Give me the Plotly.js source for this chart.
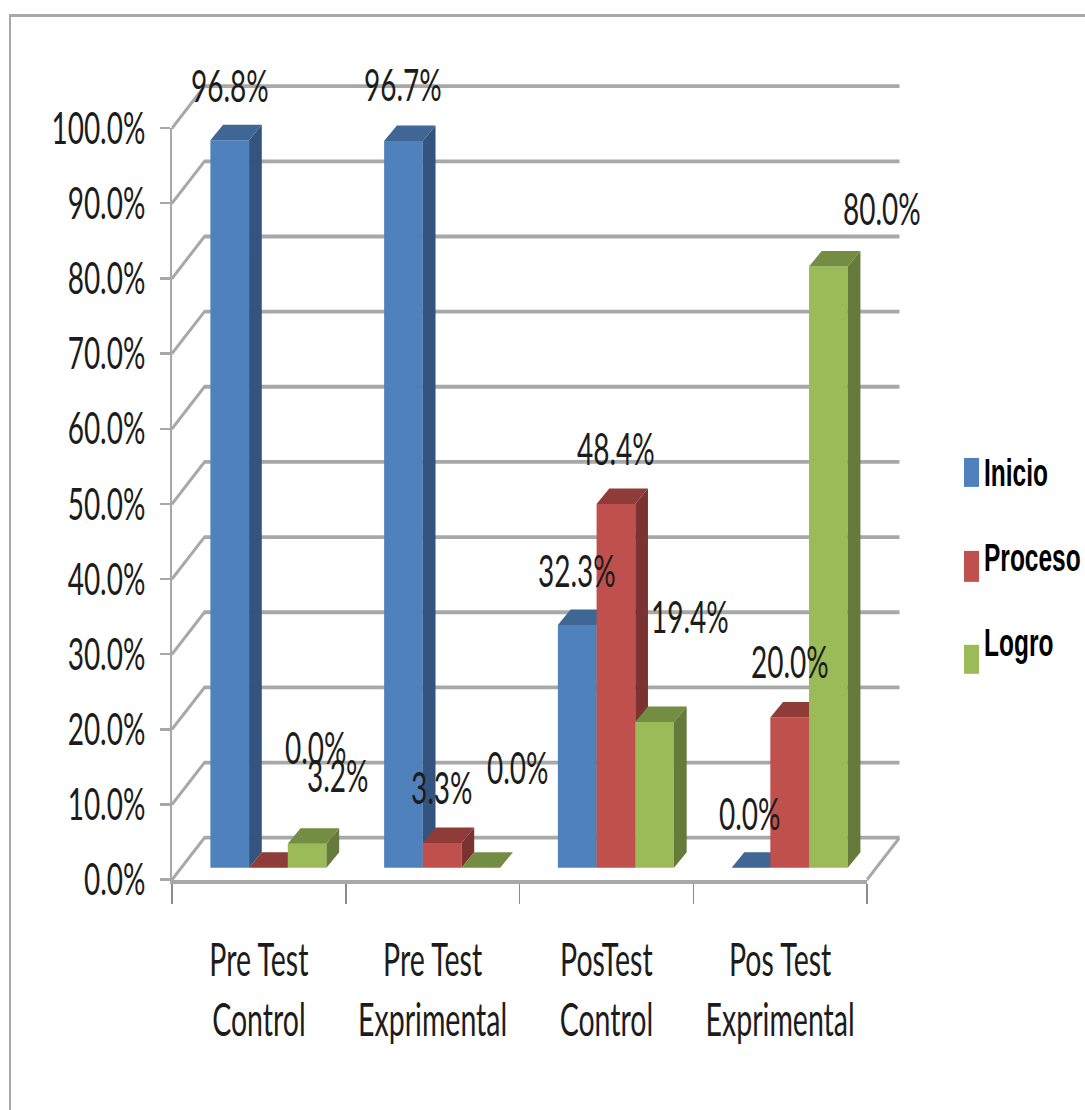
<!DOCTYPE html>
<html>
<head>
<meta charset="utf-8">
<script src="https://cdn.plot.ly/plotly-3.0.1.min.js"></script>
<style>
html,body{margin:0;padding:0;background:#fff;overflow:hidden;width:1085px;height:1110px}
#frame{position:absolute;left:9px;top:14px;width:1076px;height:1096px;border-top:3px solid #a9a9a9;border-left:2px solid #a9a9a9;box-sizing:border-box}
#chart{position:absolute;left:0;top:0;width:1085px;height:694px;transform-origin:0 0;transform:scaleY(1.5994)}
</style>
</head>
<body>
<div id="frame"></div>
<div id="chart"></div>
<script>
// ---- data ----
const categories = ['Pre Test<br>Control', 'Pre Test<br>Exprimental', 'PosTest<br>Control', 'Pos Test<br>Exprimental'];
const seriesNames = ['Inicio', 'Proceso', 'Logro'];
const inicio  = [96.8, 96.7, 32.3, 0.0];
const proceso = [0.0, 3.3, 48.4, 20.0];
const logro   = [3.2, 0.0, 19.4, 80.0];
const yTicks  = [0, 10, 20, 30, 40, 50, 60, 70, 80, 90, 100];
const yTickText = ['0.0%', '10.0%', '20.0%', '30.0%', '40.0%', '50.0%', '60.0%', '70.0%', '80.0%', '90.0%', '100.0%'];

// ---- styles ----
const frontColors = ['#4f81bd', '#c0504d', '#9bbb59'];
const sideColors  = ['#33547f', '#7b3331', '#667a3b'];
const topColors   = ['#3f6694', '#8f3b38', '#738d43'];
const gridColor = '#a8a8a8';
const textColor = '#1c1c1c';
const numFont = 'Lato, "Open Sans", sans-serif';

// ---- geometry (picture pixels) ----
const K = 1110 / 694;
const PX = {left: 172, right: 867, bottom: 880, top: 128};
const DRAW = {left: 164, right: 905, bottom: 888, top: 75};
const pxPerCat = (PX.right - PX.left) / 4;
const pxPerPct = (PX.bottom - PX.top) / 100;
const wallDx = 32.5 / pxPerCat, wallDy = 42 / pxPerPct;
const barW = 38.7 / pxPerCat;
const barStart = -48.5 / pxPerCat;
const planeBase = 12 / pxPerPct;
const depthDx = 12.7 / pxPerCat, depthDy = 15.5 / pxPerPct;
const xMin = -0.5, xMax = 3.5;
const drawX = [xMin - (PX.left - DRAW.left) / pxPerCat, xMax + (DRAW.right - PX.right) / pxPerCat];
const drawY = [-(DRAW.bottom - PX.bottom) / pxPerPct, 100 + (PX.top - DRAW.top) / pxPerPct];

// label offsets from bar top centre, picture pixels [dx, up]
const labelOffsets = [
  [[0,56],[0,57],[0,55],[-1,55]],
  [[48,121],[0,56],[0,56],[0,57]],
  [[31,69],[37,102],[35,106],[54,58]]
];

const values = [inicio, proceso, logro];
const traces = [];

// empty traces keep the visible axes in place
traces.push({type:'scatter', mode:'none', x:[0], y:[0], xaxis:'x', yaxis:'y', hoverinfo:'skip', showlegend:false});
traces.push({type:'scatter', mode:'none', x:[0], y:[0], xaxis:'x6', yaxis:'y', hoverinfo:'skip', showlegend:false});

// back wall, side wall, floor
const gx = [], gy = [];
yTicks.forEach(t => {
  gx.push(xMin, xMin + wallDx, xMax + wallDx, null);
  gy.push(t, t + wallDy, t + wallDy, null);
});
gx.push(xMax, xMax + wallDx, null);
gy.push(0, wallDy, null);
traces.push({type:'scatter', mode:'lines', x:gx, y:gy, xaxis:'x2', yaxis:'y2',
  line:{color:gridColor, width:2.4}, hoverinfo:'skip', showlegend:false});

values.forEach((vals, s) => {
  const n = s + 3;
  const xa = 'x' + n, ya = 'y' + n;
  const off = barStart + s * barW;
  traces.push({type:'bar', name:seriesNames[s], x:[0,1,2,3], y:vals, base:vals.map(() => planeBase),
    offset:off, width:barW, xaxis:xa, yaxis:ya,
    marker:{color:frontColors[s], line:{width:0}}, showlegend:false});
  const sx = [], sy = [], tx = [], ty = [];
  vals.forEach((v, i) => {
    const L = i + off, R = L + barW, t = planeBase + v;
    sx.push(R, R, R + depthDx, R + depthDx, R, null);
    sy.push(planeBase, t, t + depthDy, planeBase + depthDy, planeBase, null);
    tx.push(L, R, R + depthDx, L + depthDx, L, null);
    ty.push(t, t, t + depthDy, t + depthDy, t, null);
  });
  traces.push({type:'scatter', mode:'lines', x:sx, y:sy, xaxis:xa, yaxis:ya, fill:'toself', fillcolor:sideColors[s],
    line:{width:0, color:sideColors[s]}, hoverinfo:'skip', showlegend:false});
  traces.push({type:'scatter', mode:'lines', x:tx, y:ty, xaxis:xa, yaxis:ya, fill:'toself', fillcolor:topColors[s],
    line:{width:0, color:topColors[s]}, hoverinfo:'skip', showlegend:false});
});

// data labels
const annotations = [];
values.forEach((vals, s) => {
  vals.forEach((v, i) => {
    const o = labelOffsets[s][i];
    annotations.push({xref:'x', yref:'y', x:i + barStart + (s + 0.5) * barW, y:planeBase + v,
      xshift:o[0], yshift:o[1] / K, text:v.toFixed(1) + '%', showarrow:false, xanchor:'center', yanchor:'middle',
      font:{family:numFont, size:28, color:textColor}});
  });
});

// legend
const W = 1085, H = 694;
const paperX = px => (px - DRAW.left) / (DRAW.right - DRAW.left);
const paperY = py => (DRAW.bottom - py) / (DRAW.bottom - DRAW.top);
const legendRows = [[458, 487, 473], [551, 582, 558], [645, 674, 643]];
const shapes = [];
seriesNames.forEach((nm, s) => {
  const r = legendRows[s];
  shapes.push({type:'rect', xref:'paper', yref:'paper', x0:paperX(964), x1:paperX(979), y0:paperY(r[1]), y1:paperY(r[0]),
    fillcolor:frontColors[s], line:{width:0}});
  annotations.push({xref:'paper', yref:'paper', x:paperX(982), y:paperY(r[2]), text:nm, showarrow:false,
    xanchor:'left', yanchor:'middle', font:{family:'"Liberation Sans", Arial, sans-serif', size:24.5, weight:700, color:'#000'}});
});

const mainDomX = [paperX(PX.left), paperX(PX.right)];
const mainDomY = [paperY(PX.bottom), paperY(PX.top)];
const hiddenX = {domain:[0, 1], range:drawX, visible:false, fixedrange:true};
const hiddenY = {domain:[0, 1], range:drawY, visible:false, fixedrange:true};

const layout = {
  width:W, height:H,
  margin:{l:DRAW.left, r:W - DRAW.right, t:DRAW.top / K, b:H - DRAW.bottom / K, pad:0},
  paper_bgcolor:'rgba(0,0,0,0)', plot_bgcolor:'rgba(0,0,0,0)',
  showlegend:false, barmode:'overlay', annotations, shapes,
  xaxis:{domain:mainDomX, range:[xMin, xMax], tickmode:'array', tickvals:[-0.5,0.5,1.5,2.5,3.5], ticktext:['','','','',''],
    ticks:'outside', ticklen:12.5, tickwidth:1.5, tickcolor:'#8c8c8c', showgrid:false, zeroline:false,
    showline:true, linecolor:gridColor, linewidth:2.8, fixedrange:true},
  yaxis:{domain:mainDomY, range:[0, 100], tickmode:'array', tickvals:yTicks, ticktext:yTickText,
    ticks:'outside', ticklen:10, tickwidth:1.5, tickcolor:gridColor, showgrid:false, zeroline:false,
    showline:true, linecolor:gridColor, linewidth:2, ticklabelstandoff:9,
    tickfont:{family:numFont, size:28, color:textColor}, fixedrange:true},
  xaxis6:{overlaying:'x', anchor:'y', range:[xMin, xMax], tickmode:'array', tickvals:[0,1,2,3], ticktext:categories,
    ticks:'', showgrid:false, zeroline:false, showline:false, ticklabelstandoff:31,
    tickfont:{family:numFont, size:28.5, color:textColor}, fixedrange:true},
  xaxis2:Object.assign({anchor:'y2'}, hiddenX), yaxis2:Object.assign({anchor:'x2'}, hiddenY),
  xaxis3:Object.assign({anchor:'y3'}, hiddenX), yaxis3:Object.assign({anchor:'x3'}, hiddenY),
  xaxis4:Object.assign({anchor:'y4'}, hiddenX), yaxis4:Object.assign({anchor:'x4'}, hiddenY),
  xaxis5:Object.assign({anchor:'y5'}, hiddenX), yaxis5:Object.assign({anchor:'x5'}, hiddenY)
};

Plotly.newPlot('chart', traces, layout, {displayModeBar:false, responsive:false, staticPlot:true});
</script>
</body>
</html>
